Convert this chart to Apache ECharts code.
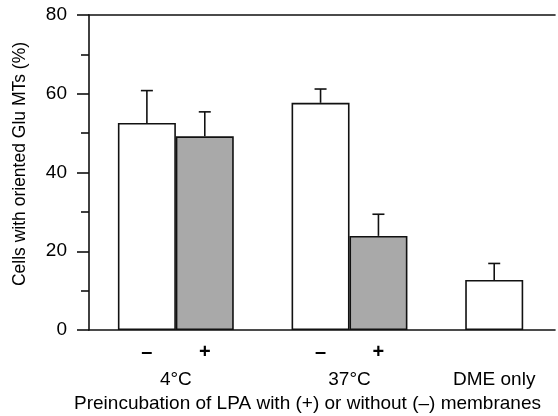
<!DOCTYPE html>
<html>
<head>
<meta charset="utf-8">
<script src="https://cdn.jsdelivr.net/npm/echarts@6/dist/echarts.min.js"></script>
<style>html,body{margin:0;padding:0;background:#fff}#c{width:558px;height:416px}</style>
</head>
<body>
<div id="c"></div>
<script>
// ---- data ----
const barPositions = [1, 2, 4, 5, 7];
const barSigns = ['–', '+', '–', '+', ''];
const barValues = [52.6, 49.2, 57.7, 23.9, 12.7];
const barErrors = [8.2, 6.2, 3.5, 5.5, 4.2];
const withMembranes = [false, true, false, true, false];
const groupLabels = ['4°C', '37°C', 'DME only'];
const groupPositions = [1.5, 4.5, 7];
const yTicks = [0, 20, 40, 60, 80];
const yTitle = 'Cells with oriented Glu MTs (%)';
const xTitle = 'Preincubation of LPA with (+) or without (–) membranes';

// ---- chart ----
const FONT = 'Liberation Sans, Arial, sans-serif';
const INK = '#111';
const chart = echarts.init(document.getElementById('c'), null, {renderer: 'canvas'});

const signMap = {};
barPositions.forEach((p, i) => { signMap[p] = barSigns[i]; });
const groupMap = {};
groupPositions.forEach((p, i) => { groupMap[p] = groupLabels[i]; });

const X_MAX = 8.05;
const baseX = {type: 'value', min: 0, max: X_MAX, splitLine: {show: false}, axisTick: {show: false}};

chart.setOption({
  animation: false,
  grid: {left: 89, right: 0, top: 15, bottom: 86},
  xAxis: [
    Object.assign({}, baseX, {
      position: 'bottom', interval: 1,
      axisLine: {show: true, onZero: false, lineStyle: {color: INK, width: 1.6}},
      axisLabel: {margin: 12, fontFamily: FONT, fontSize: 20, color: '#000', fontWeight: 'bold',
        showMinLabel: true, showMaxLabel: true,
        formatter: v => signMap[Math.round(v * 100) / 100] || ''}
    }),
    Object.assign({}, baseX, {
      position: 'bottom', offset: 30, interval: 0.5,
      axisLine: {show: false},
      axisLabel: {margin: 10, fontFamily: FONT, fontSize: 19, color: '#000',
        formatter: v => groupMap[Math.round(v * 100) / 100] || ''}
    }),
    Object.assign({}, baseX, {
      position: 'top',
      axisLine: {show: true, onZero: false, lineStyle: {color: INK, width: 1.6}},
      axisLabel: {show: false}
    })
  ],
  yAxis: {
    type: 'value', min: yTicks[0], max: yTicks[yTicks.length - 1], interval: 20,
    axisLine: {show: true, lineStyle: {color: INK, width: 1.6}},
    axisTick: {show: true, length: 12, lineStyle: {color: INK, width: 1.6}},
    minorTick: {show: true, splitNumber: 2, length: 8, lineStyle: {color: INK, width: 1.6}},
    splitLine: {show: false},
    axisLabel: {margin: 22, fontFamily: FONT, fontSize: 19, color: '#000'}
  },
  series: [
    {
      type: 'bar', xAxisIndex: 0, barWidth: 58,
      data: barPositions.map((p, i) => ({
        value: [p, barValues[i]],
        itemStyle: {color: withMembranes[i] ? '#a9a9a9' : '#ffffff', borderColor: INK, borderWidth: 1.6}
      }))
    },
    {
      type: 'custom', xAxisIndex: 0, z: 3,
      data: barPositions.map((p, i) => [p, barValues[i], barValues[i] + barErrors[i]]),
      renderItem: (params, api) => {
        const b = api.coord([api.value(0), api.value(1)]);
        const t = api.coord([api.value(0), api.value(2)]);
        const s = {stroke: INK, lineWidth: 1.6};
        return {type: 'group', children: [
          {type: 'line', shape: {x1: b[0], y1: b[1], x2: t[0], y2: t[1]}, style: s},
          {type: 'line', shape: {x1: t[0] - 6, y1: t[1], x2: t[0] + 6, y2: t[1]}, style: s}
        ]};
      }
    }
  ],
  graphic: [
    {type: 'text', x: 20.5, y: 164, rotation: Math.PI / 2,
      style: {text: yTitle, fontFamily: FONT, fontSize: 17.5, fill: '#000', align: 'center', verticalAlign: 'middle'}},
    {type: 'text', x: 307.5, y: 404,
      style: {text: xTitle, fontFamily: FONT, fontSize: 19, fill: '#000', align: 'center', verticalAlign: 'middle'}}
  ]
});
</script>
</body>
</html>
